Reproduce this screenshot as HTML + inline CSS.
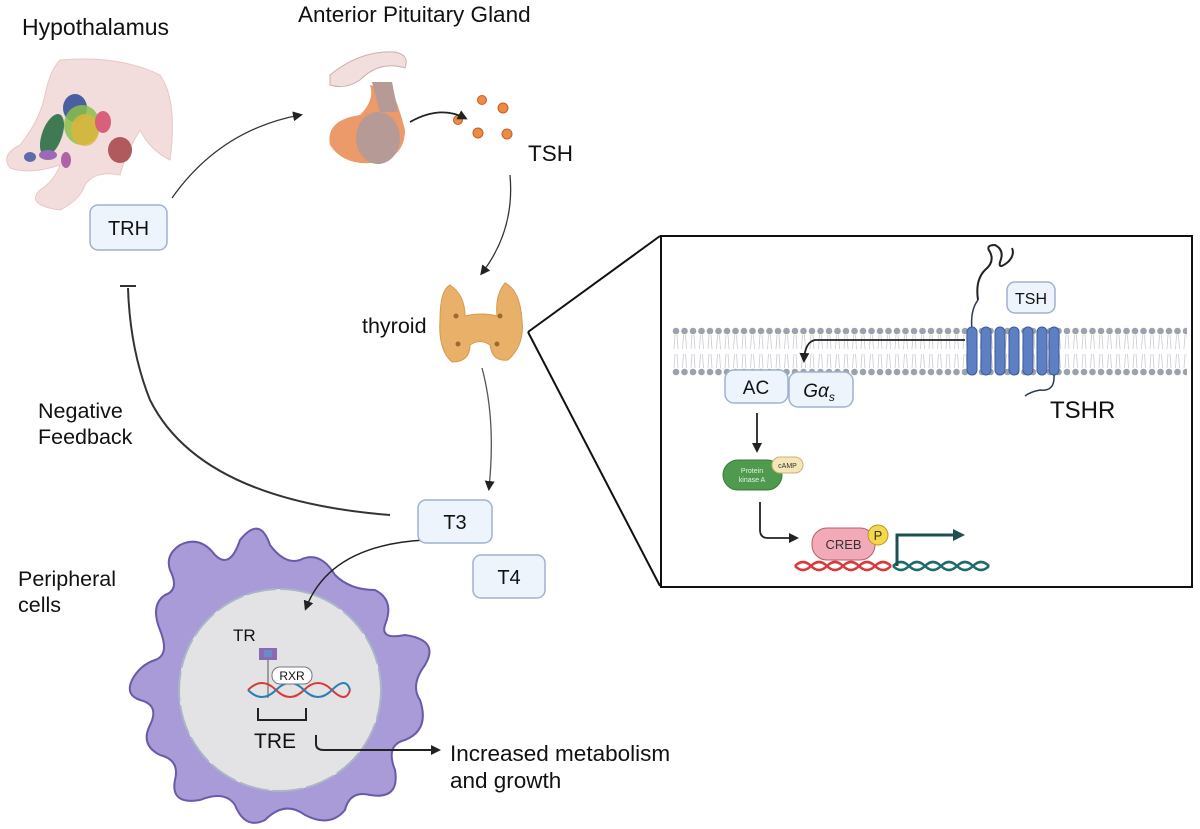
<!DOCTYPE html>
<html><head><meta charset="utf-8"><style>
html,body{margin:0;padding:0;background:#fff;}
svg{display:block;font-family:"Liberation Sans",sans-serif;}
</style></head><body>
<svg width="1200" height="829" viewBox="0 0 1200 829" xmlns="http://www.w3.org/2000/svg">
<defs>
<marker id="ah" markerWidth="10" markerHeight="10" refX="7" refY="5" orient="auto" markerUnits="userSpaceOnUse"><path d="M0,0 L10,5 L0,10 z" fill="#222"/></marker>
<marker id="ahg" markerWidth="12" markerHeight="12" refX="9" refY="6" orient="auto" markerUnits="userSpaceOnUse"><path d="M0,0 L12,6 L0,12 z" fill="#1f4f4f"/></marker>
<pattern id="lip" x="672" y="327" width="8.5" height="50" patternUnits="userSpaceOnUse">
<circle cx="4" cy="4" r="3.3" fill="#9aa3ad"/><circle cx="4" cy="45" r="3.3" fill="#9aa3ad"/>
<path d="M3,8 L2,22 M5,8 L6,22 M3,27 L2,41 M5,27 L6,41" stroke="#c8ccd2" stroke-width="0.8"/>
</pattern>
</defs>

<text x="22" y="35" font-size="23" fill="#111">Hypothalamus</text>
<text x="298" y="22" font-size="22.5" fill="#111">Anterior Pituitary Gland</text>

<!-- Hypothalamus illustration -->
<path d="M60,60 Q120,55 160,75 Q178,100 170,160 Q150,150 140,130 Q125,155 120,175 Q95,170 85,185 Q80,200 60,210 Q25,205 40,190 Q55,180 60,165 Q30,175 10,168 Q0,155 20,145 Q40,120 45,95 Q50,70 60,60 z" fill="#f3dcdc" stroke="#e8c8c8"/>
<ellipse cx="75" cy="108" rx="12" ry="14" fill="#4a5fa0"/>
<ellipse cx="52" cy="135" rx="10" ry="22" fill="#3f7a55" transform="rotate(20 52 135)"/>
<ellipse cx="82" cy="125" rx="18" ry="20" fill="#8bbf4a" opacity=".85"/>
<ellipse cx="85" cy="130" rx="14" ry="16" fill="#e0b43a" opacity=".8"/>
<ellipse cx="103" cy="122" rx="8" ry="11" fill="#d8607a"/>
<ellipse cx="120" cy="150" rx="12" ry="13" fill="#b05a5e"/>
<ellipse cx="30" cy="157" rx="6" ry="5" fill="#5f6aa8"/>
<ellipse cx="48" cy="155" rx="9" ry="5" fill="#9a6ab8"/>
<ellipse cx="66" cy="160" rx="5" ry="8" fill="#b062a8"/>

<!-- Pituitary -->
<path d="M330,75 Q360,50 395,52 Q410,55 405,68 Q380,60 360,80 Q345,90 330,85 z" fill="#f1dedd" stroke="#c9b0b0"/>
<path d="M370,85 Q375,100 360,115 Q325,120 330,145 Q345,168 380,162 Q405,155 405,130 Q400,110 392,90 z" fill="#ec9a6a"/>
<ellipse cx="378" cy="138" rx="22" ry="26" fill="#b59a96"/>
<path d="M372,82 L392,82 L398,112 L380,112 z" fill="#b59a96"/>
<g fill="#ef8a45" stroke="#c0602a" stroke-width="1">
<circle cx="482" cy="100" r="4.5"/><circle cx="503" cy="108" r="5"/><circle cx="458" cy="120" r="4.5"/><circle cx="478" cy="133" r="5"/><circle cx="507" cy="134" r="5"/>
</g>
<path d="M410,122 Q440,105 465,118" stroke="#222" stroke-width="1.8" fill="none" marker-end="url(#ah)"/>
<text x="528" y="161" font-size="22.5" fill="#111">TSH</text>

<!-- TRH -->
<rect x="90" y="205" width="77" height="45" rx="8" fill="#eef4fb" stroke="#9fb2cc" stroke-width="1.5"/>
<text x="128.5" y="235" font-size="20" text-anchor="middle" fill="#111">TRH</text>
<path d="M172,198 Q220,130 300,115" stroke="#333" stroke-width="1.3" fill="none" marker-end="url(#ah)"/>

<path d="M510,175 Q515,230 482,273" stroke="#333" stroke-width="1.3" fill="none" marker-end="url(#ah)"/>

<!-- Thyroid -->
<path d="M450,285 Q440,290 440,320 Q438,350 452,362 Q470,362 470,345 Q480,338 490,345 Q492,362 508,360 Q525,345 522,320 Q520,290 505,283 Q495,295 497,316 Q482,312 465,316 Q465,295 450,285 z" fill="#e8b068" stroke="#d49a50"/>
<g fill="#9a6a30"><circle cx="456" cy="316" r="2.5"/><circle cx="500" cy="316" r="2.5"/><circle cx="458" cy="344" r="2.5"/><circle cx="497" cy="344" r="2.5"/></g>
<text x="362" y="333" font-size="21.5" fill="#111">thyroid</text>

<line x1="528" y1="332" x2="660" y2="236" stroke="#111" stroke-width="2"/>
<line x1="528" y1="332" x2="660" y2="586" stroke="#111" stroke-width="2"/>
<rect x="661" y="236" width="531" height="351" fill="#fff" stroke="#111" stroke-width="2"/>

<!-- Membrane -->
<rect x="672" y="327" width="515" height="50" fill="url(#lip)"/>
<path d="M978,300 Q975,280 985,270 Q995,262 990,252 Q985,245 995,245 Q1005,250 1000,262 Q998,270 1008,262 Q1015,255 1012,248" stroke="#222" stroke-width="2" fill="none"/>
<path d="M978,300 Q970,310 972,330" stroke="#2b3a5a" stroke-width="1.5" fill="none"/>
<g fill="#5f7fc4" stroke="#3d5a9a">
<rect x="967" y="327" width="10" height="48" rx="5"/><rect x="981" y="327" width="10" height="48" rx="5"/><rect x="995" y="327" width="10" height="48" rx="5"/><rect x="1009" y="327" width="10" height="48" rx="5"/><rect x="1023" y="327" width="10" height="48" rx="5"/><rect x="1037" y="327" width="10" height="48" rx="5"/><rect x="1049" y="327" width="10" height="48" rx="5"/>
</g>
<path d="M1054,375 Q1055,392 1040,390 Q1030,392 1025,396" stroke="#2b3a5a" stroke-width="1.5" fill="none"/>
<rect x="1007" y="282" width="48" height="31" rx="8" fill="#eef4fb" stroke="#9fb2cc" stroke-width="1.5"/>
<text x="1031" y="304" font-size="16" text-anchor="middle" fill="#111">TSH</text>
<text x="1050" y="418" font-size="24" fill="#111">TSHR</text>
<path d="M965,340 L815,340 Q805,342 804,360" stroke="#222" stroke-width="1.8" fill="none" marker-end="url(#ah)"/>
<rect x="725" y="370" width="63" height="33" rx="9" fill="#eef4fb" stroke="#9fb2cc" stroke-width="1.5"/>
<text x="756" y="394" font-size="19" text-anchor="middle" fill="#111">AC</text>
<rect x="789" y="372" width="64" height="35" rx="9" fill="#eef4fb" stroke="#9fb2cc" stroke-width="1.5"/>
<text x="819" y="397" font-size="19" font-style="italic" text-anchor="middle" fill="#111">Gα<tspan font-size="12" dy="4">s</tspan></text>
<line x1="757" y1="413" x2="757" y2="450" stroke="#222" stroke-width="1.8" marker-end="url(#ah)"/>
<rect x="723" y="460" width="59" height="30" rx="15" fill="#4f9a4f" stroke="#3a7a3a"/>
<text x="752" y="473" font-size="7" text-anchor="middle" fill="#e6f2e6">Protein</text>
<text x="752" y="482" font-size="7" text-anchor="middle" fill="#e6f2e6">kinase A</text>
<rect x="772" y="457" width="31" height="16" rx="8" fill="#f5e6b8" stroke="#c9b07a"/>
<text x="787.5" y="468" font-size="7" text-anchor="middle" fill="#333">cAMP</text>
<path d="M760,502 L760,530 Q760,538 768,538 L796,538" stroke="#222" stroke-width="1.8" fill="none" marker-end="url(#ah)"/>
<path d="M795,566 Q803,558 811,566 T827,566 T843,566 T859,566 T875,566 T891,566" stroke="#d83a3a" stroke-width="2.5" fill="none"/>
<path d="M795,566 Q803,574 811,566 T827,566 T843,566 T859,566 T875,566 T891,566" stroke="#d83a3a" stroke-width="2.5" fill="none"/>
<path d="M893,566 Q901,558 909,566 T925,566 T941,566 T957,566 T973,566 T989,566" stroke="#1f6a6a" stroke-width="2.5" fill="none"/>
<path d="M893,566 Q901,574 909,566 T925,566 T941,566 T957,566 T973,566 T989,566" stroke="#1f6a6a" stroke-width="2.5" fill="none"/>
<rect x="812" y="528" width="63" height="32" rx="15" fill="#f2aab8" stroke="#b06070"/>
<text x="843.5" y="549" font-size="13" text-anchor="middle" fill="#333">CREB</text>
<circle cx="878" cy="535" r="10" fill="#f5d84a" stroke="#b09a20"/>
<text x="878" y="540" font-size="13" text-anchor="middle" fill="#333">P</text>
<path d="M897,566 L897,535 L962,535" stroke="#1f4f4f" stroke-width="3" fill="none" marker-end="url(#ahg)"/>

<path d="M482,368 Q496,420 489,488" stroke="#555" stroke-width="1.3" fill="none" marker-end="url(#ah)"/>
<path d="M390,515 Q200,500 150,400 Q130,350 128,288" stroke="#333" stroke-width="2" fill="none"/>
<line x1="120" y1="286" x2="136" y2="286" stroke="#333" stroke-width="2"/>
<text x="38" y="418" font-size="21.5" fill="#111">Negative</text>
<text x="38" y="444" font-size="21.5" fill="#111">Feedback</text>

<text x="18" y="586" font-size="21.5" fill="#111">Peripheral</text>
<text x="18" y="612" font-size="21.5" fill="#111">cells</text>
<path d="M180,545 Q200,535 215,555 Q230,570 240,540 Q260,515 270,545 Q285,565 300,560 Q320,550 335,575 Q350,590 375,590 Q395,600 385,625 Q380,640 405,635 Q440,640 425,665 Q410,685 420,700 Q430,730 405,740 Q385,745 395,770 Q400,800 370,795 Q350,790 345,810 Q330,828 305,815 Q285,800 265,820 Q245,830 235,805 Q225,790 200,800 Q170,805 175,780 Q180,760 160,755 Q140,745 150,725 Q160,705 140,700 Q125,695 132,680 Q140,665 155,660 Q170,655 160,630 Q150,605 165,595 Q180,590 170,570 Q165,555 180,545 z" fill="#a99ad8" stroke="#6a5aa8" stroke-width="2"/>
<circle cx="280" cy="690" r="101" fill="#e3e3e6" stroke="#a9b6c8" stroke-width="2" stroke-dasharray="30 4"/>
<path d="M425,540 Q330,545 306,608" stroke="#222" stroke-width="1.5" fill="none" marker-end="url(#ah)"/>
<text x="233" y="641" font-size="17" fill="#111">TR</text>
<path d="M259,648 L277,648 L277,660 L259,660 z" fill="#8a6ab0"/>
<rect x="264" y="650" width="8" height="7" fill="#6a8ac8"/>
<line x1="268" y1="660" x2="268" y2="698" stroke="#555" stroke-width="1"/>
<path d="M248,690 Q262,676 276,690 T304,690 T332,690 T350,690" stroke="#d83a3a" stroke-width="2" fill="none"/>
<path d="M248,690 Q262,704 276,690 T304,690 T332,690 T350,690" stroke="#2a7fb0" stroke-width="2" fill="none"/>
<rect x="272" y="667" width="40" height="17" rx="8" fill="#fff" stroke="#777"/>
<text x="292" y="680" font-size="12" text-anchor="middle" fill="#111">RXR</text>
<path d="M258,708 L258,720 L306,720 L306,708" stroke="#222" stroke-width="2" fill="none"/>
<text x="254" y="748" font-size="21" fill="#111">TRE</text>
<path d="M316,735 L316,744 Q316,750 324,750 L438,750" stroke="#222" stroke-width="2" fill="none" marker-end="url(#ah)"/>
<text x="450" y="761" font-size="22.5" fill="#111">Increased metabolism</text>
<text x="450" y="788" font-size="22.5" fill="#111">and growth</text>

<rect x="418" y="500" width="74" height="43" rx="8" fill="#eef4fb" stroke="#9fb2cc" stroke-width="1.5"/>
<text x="455" y="529" font-size="20" text-anchor="middle" fill="#111">T3</text>
<rect x="473" y="555" width="72" height="43" rx="8" fill="#eef4fb" stroke="#9fb2cc" stroke-width="1.5"/>
<text x="509" y="584" font-size="20" text-anchor="middle" fill="#111">T4</text>
</svg>
</body></html>
